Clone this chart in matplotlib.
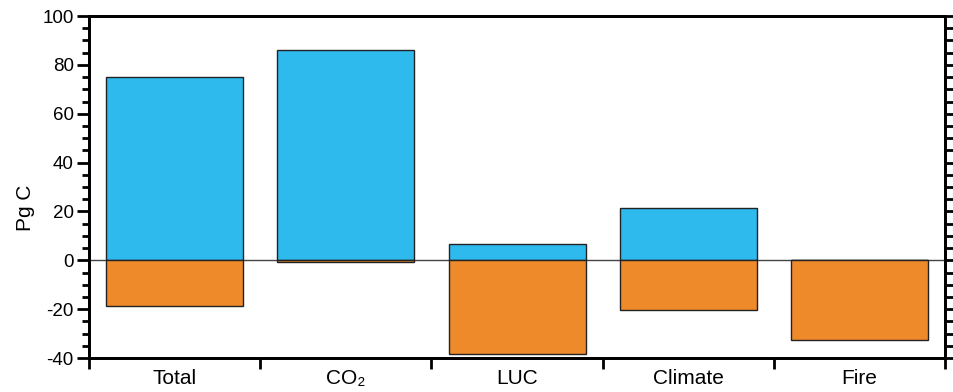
import numpy as np
import matplotlib.pyplot as plt
from matplotlib.ticker import MultipleLocator, FixedLocator

plt.rcParams['font.family'] = ['Liberation Sans', 'DejaVu Sans']
plt.rcParams['axes.unicode_minus'] = False

# Valores (Pg C)
categorias = ['Total', 'CO₂', 'LUC', 'Climate', 'Fire']
ganho = [75, 86, 6.5, 21.5, 0]
perda = [-18.5, -0.5, -38.5, -20.5, -32.5]

cor_ganho = '#2FBAEE'
cor_perda = '#EE8A2A'

fig = plt.figure(figsize=(9.54, 3.92), dpi=100)
ax = fig.add_axes([0.0933, 0.0867, 0.8973, 0.8723])

x = np.arange(len(categorias))
ax.bar(x, ganho, width=0.8, color=cor_ganho, edgecolor='#222222', linewidth=1.0, zorder=2)
ax.bar(x, perda, width=0.8, color=cor_perda, edgecolor='#222222', linewidth=1.0, zorder=2)
ax.axhline(0, color='#444444', linewidth=1.0, zorder=1)

ax.set_xlim(-0.5, len(categorias) - 0.5)
ax.set_ylim(-40, 100)

# Eixo y esquerdo
ax.yaxis.set_major_locator(MultipleLocator(20))
ax.yaxis.set_minor_locator(MultipleLocator(5))
ax.tick_params(axis='y', which='major', direction='out', length=9, width=2, labelsize=13.5, pad=2)
ax.tick_params(axis='y', which='minor', direction='out', length=5, width=2)
ax.set_ylabel('Pg C', fontsize=15)
ax.yaxis.set_label_coords(-0.063, 0.44)

# Eixo x: marcas nas divisas, rótulos no centro
ax.xaxis.set_major_locator(FixedLocator(np.arange(len(categorias) + 1) - 0.5))
ax.xaxis.set_minor_locator(FixedLocator(x))
ax.set_xticklabels([], minor=False)
ax.set_xticks(x, categorias, minor=True)
ax.tick_params(axis='x', which='major', direction='out', length=8, width=2)
ax.tick_params(axis='x', which='minor', length=0, labelsize=15, pad=8)

for s in ax.spines.values():
    s.set_linewidth(2)

# Eixo y direito só com marcas
ax2 = ax.twinx()
ax2.set_ylim(ax.get_ylim())
ax2.yaxis.set_major_locator(MultipleLocator(5))
ax2.tick_params(axis='y', direction='out', length=7, width=2, labelright=False)
for s in ax2.spines.values():
    s.set_linewidth(2)

fig.savefig('out.png', dpi=100)
